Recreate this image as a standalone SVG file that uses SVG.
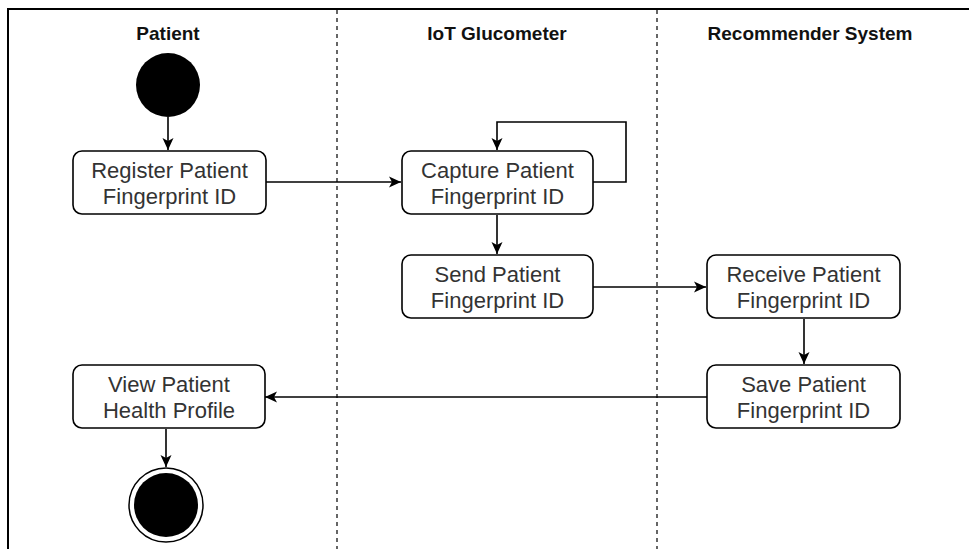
<svg xmlns="http://www.w3.org/2000/svg" width="969" height="549" viewBox="0 0 969 549">
<style>
.lane{stroke:#000;stroke-width:1.2;stroke-dasharray:4 4;fill:none}
.frame{stroke:#000;stroke-width:2;fill:none}
.hdr{font-family:"Liberation Sans",Arial,sans-serif;font-weight:bold;font-size:19px;fill:#111;text-anchor:middle}
.box{fill:#fff;stroke:#000;stroke-width:1.6}
.lbl{font-family:"Liberation Sans",Arial,sans-serif;font-size:22px;fill:#333;text-anchor:middle}
.edge{stroke:#000;stroke-width:1.6;fill:none;marker-end:url(#arr)}
</style>
<defs>
<marker id="arr" viewBox="0 0 12 12" refX="12" refY="6" markerWidth="12" markerHeight="12" markerUnits="userSpaceOnUse" orient="auto">
<path d="M0,0.5 L12,6 L0,11.5 L3,6 Z" fill="#000"/>
</marker>
</defs>
<rect width="969" height="549" fill="#fff"/>
<g id="frame">
<path class="frame" d="M8,549 V9 H969"/>
<line class="lane" x1="337" y1="10" x2="337" y2="549"/>
<line class="lane" x1="657" y1="10" x2="657" y2="549"/>
<text class="hdr" x="168" y="40">Patient</text>
<text class="hdr" x="497" y="40">IoT Glucometer</text>
<text class="hdr" x="810" y="40">Recommender System</text>
</g>
<g id="connectors">
<path class="edge" d="M168,117 V150"/>
<path class="edge" d="M266,182 H401"/>
<path class="edge" d="M593,182 H626 V122 H497 V150"/>
<path class="edge" d="M497,215 V254"/>
<path class="edge" d="M593,287 H706"/>
<path class="edge" d="M804,319 V364"/>
<path class="edge" d="M707,397 H265"/>
<path class="edge" d="M166,429 V467"/>
</g>
<g id="start">
<circle cx="168" cy="85" r="32" fill="#000"/>
</g>
<g id="register">
<rect class="box" x="73" y="151" width="193" height="63" rx="9"/>
<text class="lbl" x="169.5" y="178">Register Patient</text>
<text class="lbl" x="169.5" y="204">Fingerprint ID</text>
</g>
<g id="capture">
<rect class="box" x="402" y="151" width="191" height="63" rx="9"/>
<text class="lbl" x="497.5" y="178">Capture Patient</text>
<text class="lbl" x="497.5" y="204">Fingerprint ID</text>
</g>
<g id="send">
<rect class="box" x="402" y="255" width="191" height="63" rx="9"/>
<text class="lbl" x="497.5" y="282">Send Patient</text>
<text class="lbl" x="497.5" y="308">Fingerprint ID</text>
</g>
<g id="receive">
<rect class="box" x="707" y="255" width="193" height="63" rx="9"/>
<text class="lbl" x="803.5" y="282">Receive Patient</text>
<text class="lbl" x="803.5" y="308">Fingerprint ID</text>
</g>
<g id="save">
<rect class="box" x="707" y="365" width="193" height="63" rx="9"/>
<text class="lbl" x="803.5" y="392">Save Patient</text>
<text class="lbl" x="803.5" y="418">Fingerprint ID</text>
</g>
<g id="view">
<rect class="box" x="73" y="365" width="192" height="63" rx="9"/>
<text class="lbl" x="169" y="392">View Patient</text>
<text class="lbl" x="169" y="418">Health Profile</text>
</g>
<g id="end">
<circle cx="166" cy="505" r="37" fill="#fff" stroke="#000" stroke-width="1.5"/>
<circle cx="166" cy="505" r="32" fill="#000"/>
</g>
</svg>
